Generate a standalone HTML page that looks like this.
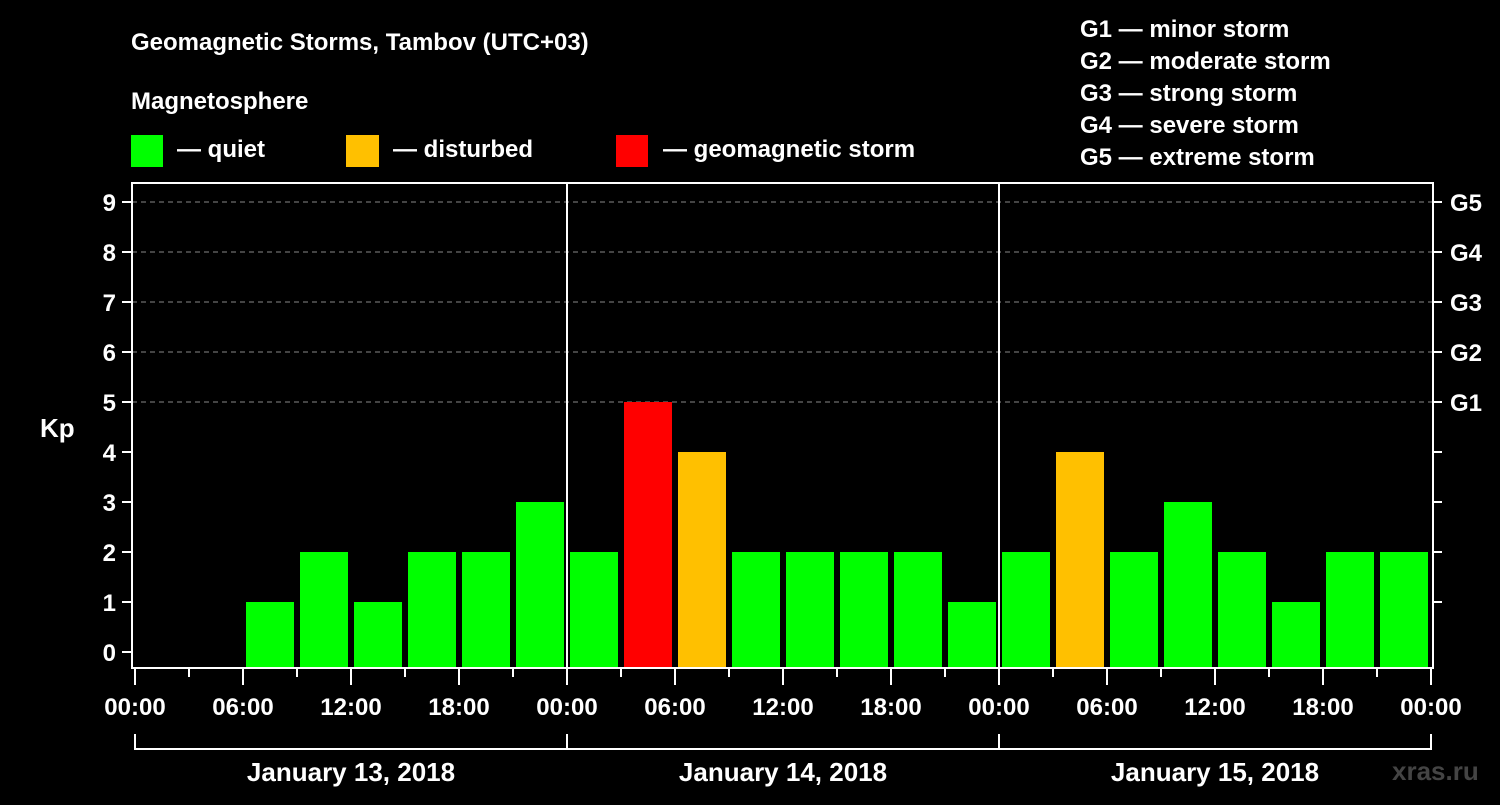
<!DOCTYPE html>
<html><head><meta charset="utf-8"><style>
body{margin:0;background:#000;width:1500px;height:800px;overflow:hidden}
svg text{font-family:"Liberation Sans",sans-serif;font-weight:bold;fill:#fff}
</style></head><body>
<svg id="c" width="1500" height="800">
<text x="131" y="50" font-size="24">Geomagnetic Storms, Tambov (UTC+03)</text>
<text x="131" y="109" font-size="24">Magnetosphere</text>
<rect x="131" y="135" width="32" height="32" fill="#00ff00"/>
<text x="177" y="157" font-size="24">— quiet</text>
<rect x="346" y="135" width="33" height="32" fill="#ffc000"/>
<text x="393" y="157" font-size="24">— disturbed</text>
<rect x="616" y="135" width="32" height="32" fill="#ff0000"/>
<text x="663" y="157" font-size="24">— geomagnetic storm</text>
<g font-size="24">
<text x="1080" y="37">G1 — minor storm</text>
<text x="1080" y="69">G2 — moderate storm</text>
<text x="1080" y="101">G3 — strong storm</text>
<text x="1080" y="133">G4 — severe storm</text>
<text x="1080" y="165">G5 — extreme storm</text>
</g>
<text x="40" y="437" font-size="26">Kp</text>
<text x="1392" y="780" font-size="26" fill="#444" style="fill:#444">xras.ru</text>
<g id="grid"></g><g id="bars"></g><g id="axes"></g>
</svg>
<script>
const days=["January 13, 2018","January 14, 2018","January 15, 2018"];
const kp=[null,null,1,2,1,2,2,3, 2,5,4,2,2,2,2,1, 2,4,2,3,2,1,2,2];
const yTicks=[0,1,2,3,4,5,6,7,8,9];
const gLabels=["G1","G2","G3","G4","G5"];
const xLabels=["00:00","06:00","12:00","18:00"];
const NS="http://www.w3.org/2000/svg";
const X0=135,DAY=432,BIN=54,Y0=652,UNIT=50,BOT=668,TOP=183,L=132,R=1433;
const x=h=>X0+h/24*DAY, y=k=>Y0-k*UNIT;
function mk(p,t,a){const e=document.createElementNS(NS,t);for(const k in a)e.setAttribute(k,a[k]);p.appendChild(e);return e;}
const grid=document.getElementById('grid'),bars=document.getElementById('bars'),ax=document.getElementById('axes');
yTicks.forEach(k=>{
 if(k>=5){const g=mk(grid,'line',{x1:L,x2:R,y1:y(k),y2:y(k),stroke:'#888','stroke-dasharray':'5,4','stroke-width':1});
 
 }
 const t=mk(ax,'line',{x1:122,x2:L,y1:y(k),y2:y(k),stroke:'#fff','stroke-width':2});
 
 
 const l=mk(ax,'text',{x:116,y:y(k)+9,'font-size':24,'text-anchor':'end'});l.textContent=k;
 
 
 if(k>=1){const r=mk(ax,'line',{x1:R,x2:1442,y1:y(k),y2:y(k),stroke:'#fff','stroke-width':2});
 
 }
});
gLabels.forEach((g,i)=>{const t=mk(ax,'text',{x:1450,y:y(5+i)+9,'font-size':24});t.textContent=g;
 
 });
kp.forEach((v,i)=>{if(v===null)return;
 const c=v>=5?'#ff0000':v>=4?'#ffc000':'#00ff00';
 const b=mk(bars,'rect',{x:x(i*3)+3,y:y(v),width:48,height:BOT-y(v),fill:c});
 
 });
const f=mk(ax,'rect',{x:L,y:TOP,width:R-L,height:BOT-TOP,fill:'none',stroke:'#fff','stroke-width':2});


for(let d=1;d<days.length;d++){const s=mk(ax,'line',{x1:x(d*24),x2:x(d*24),y1:TOP,y2:BOT,stroke:'#fff','stroke-width':2});
 
 }
for(let h=0;h<=72;h+=3){const long=h%6===0;const t=mk(ax,'line',{x1:x(h),x2:x(h),y1:BOT,y2:long?685:677,stroke:'#fff','stroke-width':2});
 
 
 if(long){const l=mk(ax,'text',{x:x(h),y:715,'font-size':24,'text-anchor':'middle'});l.textContent=xLabels[(h%24)/6];
 
 }}
mk(ax,'line',{x1:x(0),x2:x(72),y1:749,y2:749,stroke:'#fff','stroke-width':2});
for(let d=0;d<=days.length;d++){const t=mk(ax,'line',{x1:x(d*24),x2:x(d*24),y1:734,y2:750,stroke:'#fff','stroke-width':2});
 
 }
days.forEach((d,i)=>{const t=mk(ax,'text',{x:x(i*24+12),y:781,'font-size':26,'text-anchor':'middle'});t.textContent=d;
 
 });
</script>
</body></html>
